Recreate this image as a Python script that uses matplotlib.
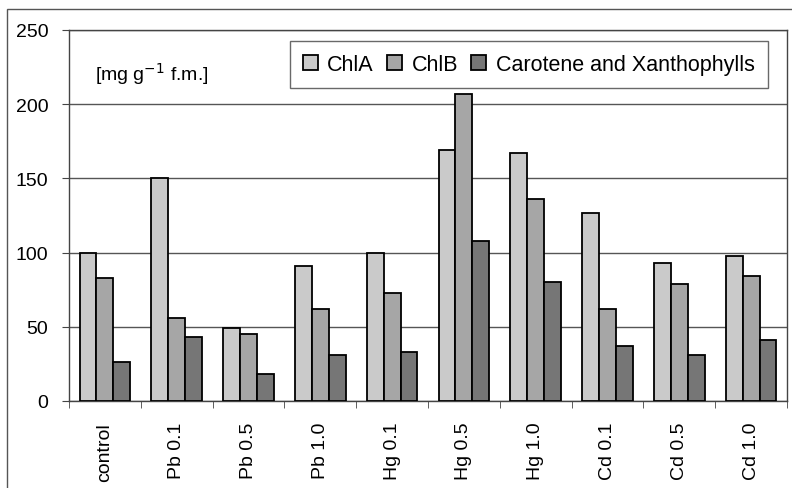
import matplotlib.pyplot as plt
import numpy as np
from matplotlib.patches import Rectangle

plt.rcParams.update({
    'font.family': ['Liberation Sans', 'DejaVu Sans'],
    'font.size': 12,
})

categories = ['control', 'Pb 0.1', 'Pb 0.5', 'Pb 1.0', 'Hg 0.1',
              'Hg 0.5', 'Hg 1.0', 'Cd 0.1', 'Cd 0.5', 'Cd 1.0']
chl_a = [100, 150, 49, 91, 100, 169, 167, 127, 93, 98]
chl_b = [83, 56, 45, 62, 73, 207, 136, 62, 79, 84]
carotene = [26, 43, 18, 31, 33, 108, 80, 37, 31, 41]
series_names = ['ChlA', 'ChlB', 'Carotene and Xanthophylls']
colors = ['#cacaca', '#a6a6a6', '#767676']

fig = plt.figure(figsize=(7.92, 4.89), dpi=100)
ax = fig.add_axes([69 / 792, 1 - 402 / 489, (787 - 69) / 792, (402 - 31) / 489])

# outer frame of the chart object
fig.patches.append(Rectangle((7 / 792, -0.1), 1.2, 1 - 10 / 489 + 0.1,
                             transform=fig.transFigure, fill=False,
                             edgecolor='#555555', linewidth=1.0))

x = np.arange(len(categories))
w = 0.235
for i, (vals, name, c) in enumerate(zip([chl_a, chl_b, carotene], series_names, colors)):
    ax.bar(x + (i - 1) * w, vals, width=w, color=c, edgecolor='black',
           linewidth=1.3, label=name, zorder=3)

ax.set_xlim(-0.5, len(categories) - 0.5)
ax.set_ylim(0, 250)
ax.set_yticks([0, 50, 100, 150, 200, 250])
ax.yaxis.grid(True, color='#555555', linewidth=1.0, zorder=0)

ax.set_xticks(x)
ax.set_xticklabels(categories, rotation=90, fontsize=14)
ax.set_xticks(np.arange(len(categories) + 1) - 0.5, minor=True)
ax.tick_params(axis='x', which='major', length=0, pad=15)
ax.tick_params(axis='x', which='minor', length=5, color='#444444')
ax.tick_params(axis='y', length=5, color='#444444', labelsize=14, pad=10)

for s in ax.spines.values():
    s.set_color('#444444')
    s.set_linewidth(1.0)

ax.text(0.036, 0.885, '[mg g$^{-1}$ f.m.]', transform=ax.transAxes,
        fontsize=14, va='center', ha='left')

leg = ax.legend(loc='upper right', bbox_to_anchor=(0.973, 0.97), ncol=3,
                fontsize=15.5, frameon=True, fancybox=False, edgecolor='#444444',
                handlelength=0.7, handleheight=0.7, handletextpad=0.45,
                columnspacing=0.6, borderpad=0.6, borderaxespad=0)
leg.get_frame().set_linewidth(1.0)

fig.savefig('out.png', dpi=100)
